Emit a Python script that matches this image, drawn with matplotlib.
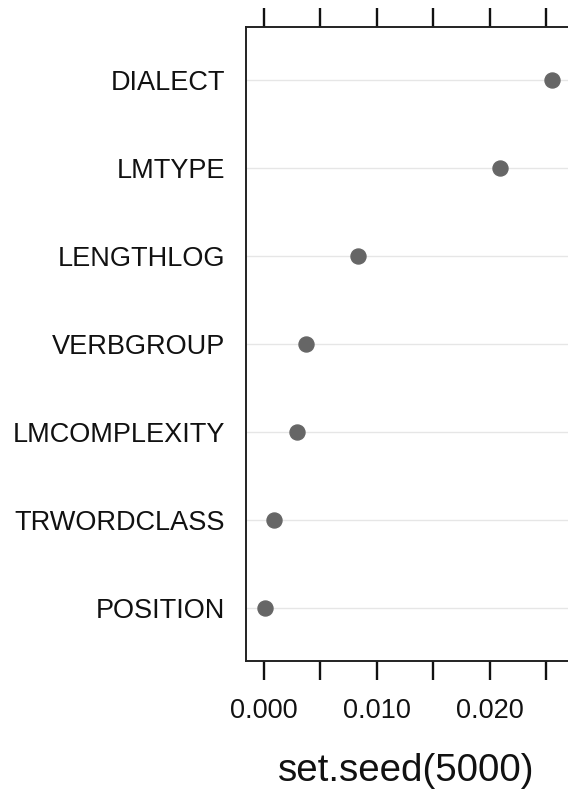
import matplotlib
matplotlib.use("Agg")
import matplotlib.pyplot as plt
import numpy as np

plt.rcParams['font.family'] = ['Liberation Sans', 'DejaVu Sans']

# variable importance, bottom row first
variables = ['POSITION', 'TRWORDCLASS', 'LMCOMPLEXITY', 'VERBGROUP',
             'LENGTHLOG', 'LMTYPE', 'DIALECT']
importance = [0.00013, 0.00093, 0.00296, 0.00376, 0.00836, 0.0209, 0.0255]

tick_values = [0.000, 0.005, 0.010, 0.015, 0.020, 0.025]
tick_labels = ['0.000', '', '0.010', '', '0.020', '']

W, H = 568, 791
fig = plt.figure(figsize=(W / 100, H / 100), dpi=100)

# axes runs off the right edge, like the cropped original
left, right, top, bottom = 246, 590, 27, 661
ax = fig.add_axes([left / W, (H - bottom) / H, (right - left) / W, (bottom - top) / H])

rows = np.arange(1, len(variables) + 1)
for r in rows:
    ax.axhline(r, color='#e6e6e6', lw=1.0, zorder=1)
ax.plot(importance, rows, 'o', color='#666666', markersize=10.8, zorder=3)

ax.set_xlim(-0.00155, 0.02889)
ax.set_ylim(0.4, len(variables) + 0.6)

ax.set_yticks(rows)
ax.set_yticklabels(variables, fontsize=19.5, color='#111111')
ax.tick_params(axis='y', length=0, pad=15)

ax.set_xticks(tick_values)
ax.set_xticklabels(tick_labels, fontsize=19.5, color='#111111')
ax.tick_params(axis='x', which='both', direction='out', length=13.7, width=1.7,
               top=True, labeltop=False, pad=13, color='#111111')

for s in ax.spines.values():
    s.set_linewidth(1.4)
    s.set_color('#222222')

fig.text(406 / W, (H - 771) / H, 'set.seed(5000)', fontsize=27.7,
         ha='center', va='center', color='#111111')

fig.savefig('out.png', dpi=100)
